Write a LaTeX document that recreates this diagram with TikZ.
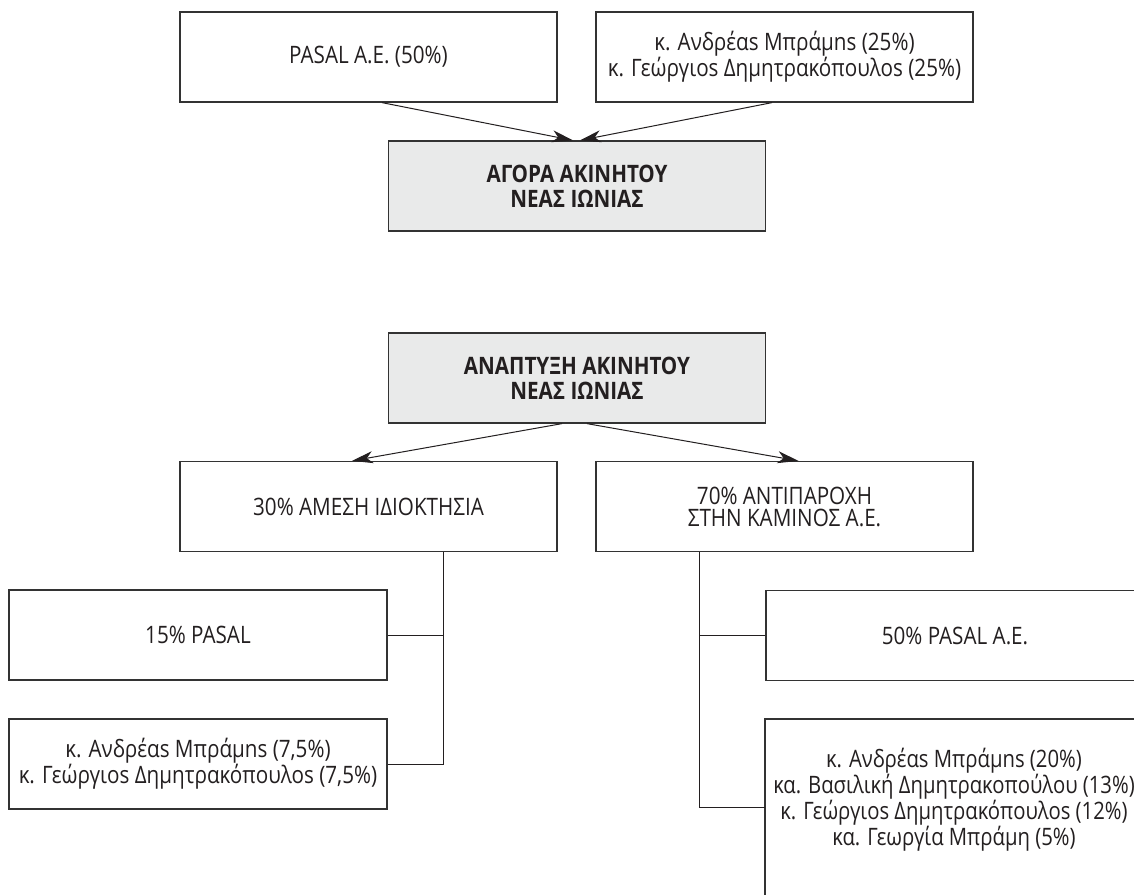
\documentclass[tikz,border=0pt]{standalone}
\usepackage{fontspec}
\setmainfont{Open Sans}[FakeStretch=0.86]
\newfontfamily\narrowfont{Open Sans}[FakeStretch=0.845]
\usetikzlibrary{arrows.meta,calc}
\definecolor{ink}{HTML}{231F20}
\definecolor{edge}{HTML}{333333}
\definecolor{boxfill}{HTML}{E9EAEA}
\begin{document}
\begin{tikzpicture}[x=1pt,y=-1pt,
  plainbox/.style={draw=edge, line width=1.25pt, fill=white, minimum width=377pt, minimum height=90pt,
    inner sep=0pt, align=center, text=ink, font=\fontsize{24}{22}\selectfont},
  greybox/.style={plainbox, fill=boxfill, font=\fontsize{24}{25}\selectfont\bfseries},
  conn/.style={draw=ink, line width=1pt},
  arr/.style={conn, -{Stealth[length=21pt,width=12pt,inset=6pt]}}]
\useasboundingbox (0,0) rectangle (1134,894);
\fill[white] (0,0) rectangle (1134,894);
\clip (0,0) rectangle (1134,894);

\node[plainbox] (a) at (368.5,57) {PASAL A.E. (50\%)};
\node[plainbox] (b) at (784.5,57) {κ. Ανδρέαs Μπράμns (25\%)\\κ. Γεώργιοs Δημητρακόπουλοs (25\%)};
\node[greybox] (c) at (577,186) {ΑΓΟΡΑ ΑΚΙΝΗΤΟΥ\\ΝΕΑΣ ΙΩΝΙΑΣ};
\node[greybox] (d) at (577,378) {ΑΝΑΠΤΥΞΗ ΑΚΙΝΗΤΟΥ\\ΝΕΑΣ ΙΩΝΙΑΣ};
\node[plainbox] (e) at (368.5,506.5) {30\% ΑΜΕΣΗ ΙΔΙΟΚΤΗΣΙΑ};
\node[plainbox] (f) at (784.5,506.5) {70\% ΑΝΤΙΠΑΡΟΧΗ\\ΣΤΗΝ ΚΑΜΙΝΟΣ Α.Ε.};
\node[plainbox, minimum width=378pt] (g) at (198,635) {15\% PASAL};
\node[plainbox, minimum width=378pt] (h) at (198,764) {κ. Ανδρέαs Μπράμns (7,5\%)\\κ. Γεώργιοs Δημητρακόπουλοs (7,5\%)};
\node[plainbox, minimum width=378pt] (i) at (955,635.5) {50\% PASAL A.E.};
\node[plainbox, minimum width=378pt, minimum height=200pt, text depth=45pt,
      font=\narrowfont\fontsize{24}{22}\selectfont] (j) at (954,819)
  {κ. Ανδρέαs Μπράμns (20\%)\\κα. Βασιλική Δημητρακοπούλου (13\%)\\κ. Γεώργιοs Δημητρακόπουλοs (12\%)\\κα. Γεωργία Μπράμη (5\%)};

\coordinate (a1) at ($(a.south)+(13.5,0)$);
\coordinate (c1) at ($(c.north)+(-4,0)$);
\coordinate (b1) at ($(b.south)+(-12.5,0)$);
\coordinate (c2) at ($(c.north)+(3,0)$);
\draw[arr] (a1) -- (c1);
\draw[arr] (b1) -- (c2);

\coordinate (d1) at ($(d.south)+(-15,0)$);
\coordinate (e1) at ($(e.north)+(-16.5,0)$);
\coordinate (d2) at ($(d.south)+(10,0)$);
\coordinate (f1) at ($(f.north)+(14,0)$);
\draw[arr] (d1) -- (e1);
\draw[arr] (d2) -- (f1);

\coordinate (eb) at ($(e.south)+(74.5,0)$);
\draw[conn] (eb) |- (h.east);
\draw[conn] (g.east) -- (g.east -| eb);

\coordinate (fb) at ($(f.south)+(-85.5,0)$);
\coordinate (jl) at ($(j.north west)+(1,89)$);
\draw[conn] (fb) |- (jl);
\draw[conn] (i.west) -- (i.west -| fb);
\end{tikzpicture}
\end{document}
